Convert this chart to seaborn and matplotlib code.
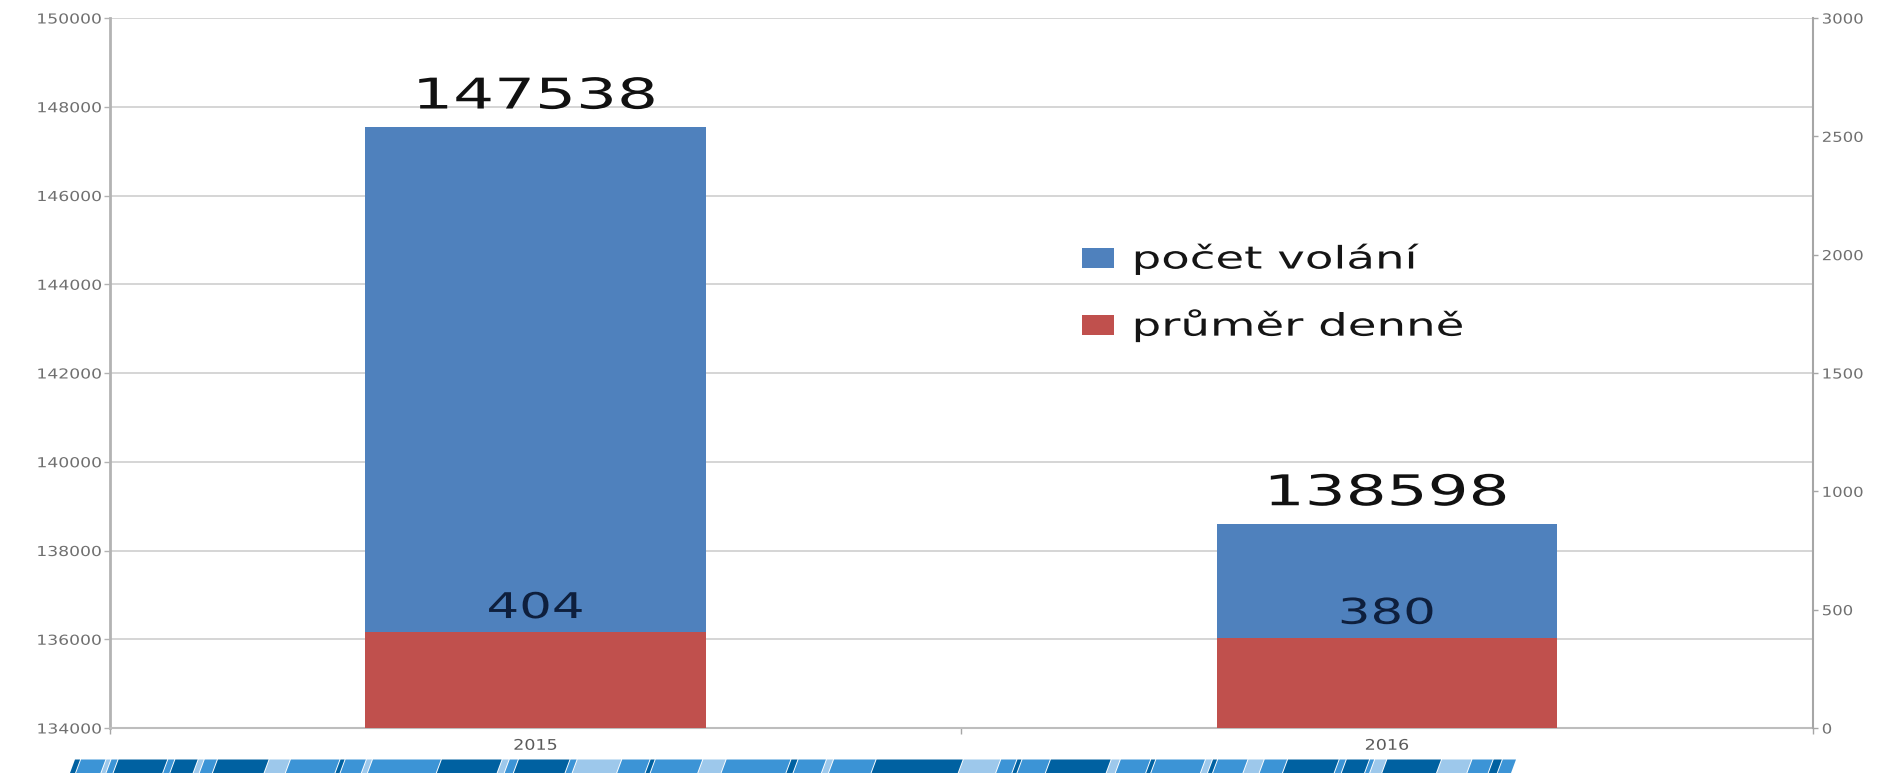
import numpy as np
import pandas as pd
import matplotlib
matplotlib.use('Agg')
import matplotlib.pyplot as plt
import seaborn as sns
from matplotlib.patches import Patch, Polygon
from matplotlib.patheffects import AbstractPathEffect
from matplotlib.transforms import Affine2D, IdentityTransform

# ---------------- data ----------------
years = ['2015', '2016']
calls = [147538, 138598]          # počet volání (left axis)
daily_avg = [404, 380]            # průměr denně (right axis)
series_names = ['počet volání', 'průměr denně']
left_ticks = list(range(134000, 150001, 2000))
right_ticks = list(range(0, 3001, 500))

BLUE = '#4F81BD'
RED = '#C0504D'


class StretchX(AbstractPathEffect):
    """Draw text stretched horizontally (the reference slide is stretched)."""

    def __init__(self, sx, align='center'):
        super().__init__()
        self.sx = sx
        self.align = align

    def draw_path(self, renderer, gc, tpath, affine, rgbFace=None):
        ext = tpath.get_extents()
        if self.align == 'center':
            c = (ext.x0 + ext.x1) / 2
        elif self.align == 'right':
            c = ext.x1
        else:
            c = ext.x0
        t = Affine2D().translate(-c, 0).scale(self.sx, 1).translate(c, 0) + affine
        renderer.draw_path(gc, tpath, t, rgbFace)


sns.set_theme(style='white')
plt.rcParams['font.family'] = ['DejaVu Sans']

W, H = 1880, 773
fig = plt.figure(figsize=(W / 100, H / 100), dpi=100)
fig.patch.set_facecolor('white')
ax = fig.add_axes([109.75 / W, 45 / H, 1703 / W, 710 / H])

df = pd.DataFrame({'rok': years, 'volani': calls, 'prumer': daily_avg})

sns.barplot(data=df, x='rok', y='volani', color=BLUE, width=0.4, saturation=1,
            errorbar=None, ax=ax, zorder=2, linewidth=0, edgecolor='none')
ax2 = ax.twinx()
sns.barplot(data=df, x='rok', y='prumer', color=RED, width=0.4, saturation=1,
            errorbar=None, ax=ax2, zorder=2, linewidth=0, edgecolor='none')

ax.set_xlim(-0.5, 1.5)
ax.set_ylim(left_ticks[0], left_ticks[-1])
ax2.set_ylim(right_ticks[0], right_ticks[-1])
ax.set_yticks(left_ticks)
ax2.set_yticks(right_ticks)
ax.set_xlabel('')
ax.set_ylabel('')
ax2.set_xlabel('')
ax2.set_ylabel('')

# grid
ax.set_axisbelow(True)
ax.yaxis.grid(True, color='#d2d2d2', lw=1.3)
ax.xaxis.grid(False)
ax2.grid(False)

# spines
for s in ['top', 'right']:
    ax.spines[s].set_visible(False)
for s in ['top', 'left', 'bottom']:
    ax2.spines[s].set_visible(False)
ax.spines['left'].set_color('#b3b3b3')
ax.spines['left'].set_linewidth(2.0)
ax.spines['bottom'].set_color('#bdbdbd')
ax.spines['bottom'].set_linewidth(1.5)
ax2.spines['right'].set_color('#a6a6a6')
ax2.spines['right'].set_linewidth(1.5)

# ticks
ax.tick_params(axis='y', which='major', left=True, length=4.3, width=1.0,
               color='#b3b3b3', pad=1.5, labelsize=9.9, labelcolor='#707070')
ax2.tick_params(axis='y', which='major', right=True, length=3.6, width=1.0,
                color='#a6a6a6', pad=3, labelsize=9.9, labelcolor='#707070')
ax.set_xticks([-0.5, 0.5, 1.5], minor=True)
ax.tick_params(axis='x', which='minor', bottom=True, length=4.5, width=1.0,
               color='#a6a6a6')
ax.tick_params(axis='x', which='major', bottom=False, length=0, pad=7,
               labelsize=10.5, labelcolor='#5a5a5a')
ax2.tick_params(axis='x', which='both', bottom=False, top=False, labelbottom=False)

for t in ax.get_yticklabels():
    t.set_path_effects([StretchX(1.25, 'right')])
for t in ax2.get_yticklabels():
    t.set_path_effects([StretchX(1.2, 'left')])
for t in ax.get_xticklabels():
    t.set_path_effects([StretchX(1.2, 'center')])

# data labels
lab1 = ax.bar_label(ax.containers[0], labels=[str(v) for v in calls], padding=7,
                    fontsize=30.5, color='#111111')
for t in lab1:
    t.set_path_effects([StretchX(1.52, 'center')])
lab2 = ax2.bar_label(ax2.containers[0], labels=[str(v) for v in daily_avg],
                     padding=5.3, fontsize=25.5, color='#0E1F3D')
for t in lab2:
    t.set_path_effects([StretchX(1.45, 'center')])

# legend
handles = [Patch(facecolor=BLUE, edgecolor='none'), Patch(facecolor=RED, edgecolor='none')]
fs = 22.4
fs_px = fs * 100 / 72
leg = ax2.legend(handles, series_names, loc='upper left',
                 bbox_to_anchor=(1082 / W, 1 - 244 / H), bbox_transform=fig.transFigure,
                 frameon=False, borderpad=0, borderaxespad=0, fontsize=fs,
                 handlelength=32 / fs_px, handleheight=19 / fs_px,
                 handletextpad=19 / fs_px, labelspacing=1.12)
for t in leg.get_texts():
    t.set_color('#151515')
    t.set_path_effects([StretchX(1.5, 'left')])

# decorative stripe band at the bottom of the slide
DARK, MID, LIGHT = '#0061A1', '#3C94D6', '#9DC8EB'
stripe_segments = [
    (6, DARK), (25, MID), (5, LIGHT), (7, MID), (49, DARK), (7, MID), (23, DARK),
    (6, LIGHT), (13, MID), (51, DARK), (21, LIGHT), (49, MID), (5, DARK), (21, MID),
    (6, LIGHT), (68, MID), (60, DARK), (7, LIGHT), (9, MID), (51, DARK), (7, MID),
    (44, LIGHT), (28, MID), (5, DARK), (47, MID), (23, LIGHT), (64, MID),
    (7, DARK), (28, MID), (7, LIGHT), (42, MID), (86, DARK), (37, LIGHT), (16, MID),
    (5, DARK), (28, MID), (60, DARK), (9, LIGHT), (30, MID), (5, DARK), (49, MID),
    (7, LIGHT), (5, DARK), (30, MID), (16, LIGHT), (23, MID), (51, DARK), (7, MID),
    (23, DARK), (5, MID), (12, LIGHT), (54, DARK), (30, LIGHT), (21, MID), (9, DARK),
    (14, MID),
]
band_x0, band_x1 = 70.0, 1512.0
total = sum(w for w, _ in stripe_segments)
scale = (band_x1 - band_x0) / total
x0 = band_x0
y_bot, y_top = 0.0, 13.5
slant = 5.0
gap = 1.0
for w, c in stripe_segments:
    w = w * scale
    xa, xb = x0, x0 + w - gap
    if xb > xa:
        poly = Polygon([(xa, y_bot), (xb, y_bot), (xb + slant, y_top), (xa + slant, y_top)],
                       closed=True, facecolor=c, edgecolor='none',
                       transform=IdentityTransform())
        fig.add_artist(poly)
    x0 += w

fig.savefig('out.png', dpi=100)
